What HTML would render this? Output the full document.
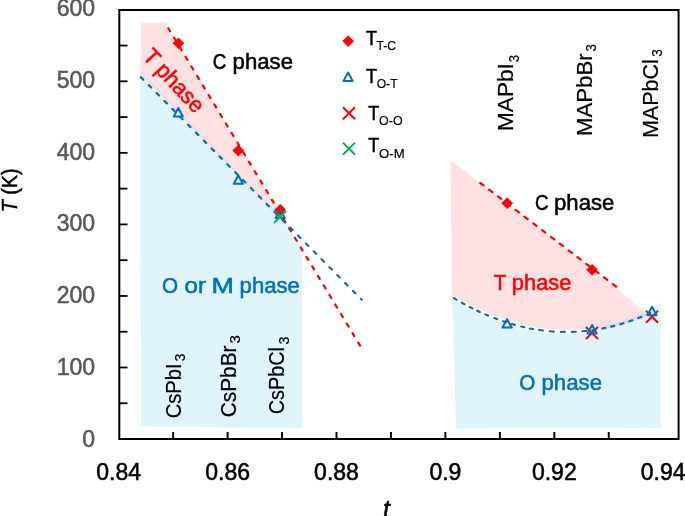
<!DOCTYPE html>
<html><head><meta charset="utf-8"><style>
html,body{margin:0;padding:0;background:#fff;}
body{width:685px;height:516px;overflow:hidden;}
svg{display:block;font-family:"Liberation Sans", sans-serif;will-change:transform;}
</style></head><body>
<svg width="685" height="516" viewBox="0 0 685 516">
<polygon points="141.1,22.9 166.9,22.5 167.3,26.5 287,224.5 240,176.6 150,82.6 140.6,71.8" fill="#FFE1E1"/>
<polygon points="140.2,70.2 150,81.2 240,175.2 287,224.5 302,249.5 302,428.3 141.1,426.4" fill="#E0F4FC"/>
<polyline points="140.6,71.2 150,81.9 240,175.9 285,222.6" fill="none" stroke="#E3D9DE" stroke-width="1.5"/>
<polygon points="450.5,160.2 603.0,276.6 646.3,313.6 644.0,317.3 641.6,318.3 639.1,319.3 636.7,320.2 634.3,321.1 631.8,322.0 629.4,322.8 627.0,323.6 624.6,324.4 622.1,325.1 619.7,325.8 617.3,326.5 614.8,327.2 612.4,327.8 610.0,328.4 607.5,328.9 605.1,329.1 602.7,328.7 600.3,328.3 597.8,327.8 595.4,327.5 593.0,327.9 590.5,328.2 588.1,328.5 585.7,328.8 583.2,329.0 580.8,329.2 578.4,329.4 575.9,329.5 573.5,329.6 571.1,329.7 568.7,329.8 566.2,329.8 563.8,329.8 561.4,329.7 558.9,329.6 556.5,329.5 554.1,329.4 551.6,329.2 549.2,329.0 546.8,328.7 544.4,328.5 541.9,328.2 539.5,327.8 537.1,327.5 534.6,327.1 532.2,326.7 529.8,326.2 527.3,325.7 524.9,325.2 522.5,324.6 520.1,324.0 517.6,323.4 515.2,322.8 512.8,322.1 510.3,321.4 507.9,320.6 505.5,319.9 503.0,319.0 500.6,318.2 498.2,317.3 495.7,316.4 493.3,315.5 490.9,314.5 488.5,313.5 486.0,312.5 483.6,311.4 481.2,310.4 478.7,309.2 476.3,308.1 473.9,306.9 471.4,305.7 469.0,304.4 466.6,303.1 464.2,301.8 461.7,300.5 459.3,299.1 456.9,297.7 454.4,296.2 452.0,294.8 451.8,294.8" fill="#FFE1E1"/>
<polygon points="452.4,299.2 454.9,300.7 457.3,302.1 459.8,303.6 462.2,304.9 464.7,306.3 467.1,307.6 469.6,308.9 472.0,310.2 474.5,311.4 476.9,312.6 479.4,313.7 481.9,314.9 484.3,316.0 486.8,317.0 489.2,318.0 491.7,319.0 494.1,320.0 496.6,320.9 499.0,321.8 501.5,322.7 503.9,323.5 506.4,324.4 508.9,325.1 511.3,325.9 513.8,326.6 516.2,327.2 518.7,327.9 521.1,328.5 523.6,329.1 526.0,329.6 528.5,330.1 530.9,330.6 533.4,331.1 535.9,331.5 538.3,331.9 540.8,332.2 543.2,332.5 545.7,332.8 548.1,333.1 550.6,333.3 553.0,333.5 555.5,333.7 557.9,333.8 560.4,333.9 562.8,333.9 565.3,334.0 567.8,334.0 570.2,333.9 572.7,333.9 575.1,333.8 577.6,333.6 580.0,333.5 582.5,333.3 584.9,333.0 587.4,332.8 589.8,332.5 592.3,332.2 594.8,331.8 597.2,330.8 599.7,329.2 602.1,327.5 604.6,325.8 607.0,324.5 609.5,324.0 611.9,323.4 614.4,322.8 616.8,322.1 619.3,321.5 621.8,320.7 624.2,320.0 626.7,319.2 629.1,318.4 631.6,317.6 634.0,316.7 636.5,315.8 638.9,314.9 641.4,313.9 643.8,312.9 646.3,311.8 660.8,302.6 660.8,428.0 456.1,428.4" fill="#E0F4FC"/>
<polygon points="601.0,328.3 602.2,327.5 603.3,326.7 604.5,325.8 605.6,325.0 606.8,324.6 607.9,324.3 609.1,324.1 610.2,323.8 611.4,323.5 612.5,323.3 613.7,323.0 614.8,322.7 616.0,322.4 617.2,322.1 618.3,321.7 619.5,321.4 620.6,321.1 621.8,320.7 622.9,320.4 624.1,320.0 625.2,319.7 626.4,319.3 627.5,318.9 628.7,318.6 629.8,318.2 631.0,317.8 632.2,317.4 633.3,317.0 634.5,316.5 635.6,316.1 636.8,315.7 637.9,315.2 639.1,314.8 640.2,314.3 641.4,313.9 642.5,313.4 643.7,312.9 644.8,312.5 646.0,313.3 646.0,316.5 644.8,317.0 643.7,317.4 642.5,317.9 641.4,318.4 640.2,318.8 639.1,319.3 637.9,319.7 636.8,320.2 635.6,320.6 634.5,321.0 633.3,321.5 632.2,321.9 631.0,322.3 629.8,322.7 628.7,323.1 627.5,323.4 626.4,323.8 625.2,324.2 624.1,324.5 622.9,324.9 621.8,325.2 620.6,325.6 619.5,325.9 618.3,326.2 617.2,326.6 616.0,326.9 614.8,327.2 613.7,327.5 612.5,327.8 611.4,328.0 610.2,328.3 609.1,328.6 607.9,328.8 606.8,329.1 605.6,329.2 604.5,329.0 603.3,328.8 602.2,328.6 601.0,328.4" fill="#E3D9DE"/>
<path d="M119.3,10 H678.6 V439 H119.3 Z" fill="none" stroke="#000" stroke-width="2"/>
<line x1="119.3" y1="403.28" x2="127.5" y2="403.28" stroke="#000" stroke-width="1.8"/>
<line x1="119.3" y1="367.50" x2="127.5" y2="367.50" stroke="#000" stroke-width="1.8"/>
<line x1="119.3" y1="331.73" x2="127.5" y2="331.73" stroke="#000" stroke-width="1.8"/>
<line x1="119.3" y1="295.95" x2="127.5" y2="295.95" stroke="#000" stroke-width="1.8"/>
<line x1="119.3" y1="260.18" x2="127.5" y2="260.18" stroke="#000" stroke-width="1.8"/>
<line x1="119.3" y1="224.40" x2="127.5" y2="224.40" stroke="#000" stroke-width="1.8"/>
<line x1="119.3" y1="188.62" x2="127.5" y2="188.62" stroke="#000" stroke-width="1.8"/>
<line x1="119.3" y1="152.85" x2="127.5" y2="152.85" stroke="#000" stroke-width="1.8"/>
<line x1="119.3" y1="117.07" x2="127.5" y2="117.07" stroke="#000" stroke-width="1.8"/>
<line x1="119.3" y1="81.30" x2="127.5" y2="81.30" stroke="#000" stroke-width="1.8"/>
<line x1="119.3" y1="45.52" x2="127.5" y2="45.52" stroke="#000" stroke-width="1.8"/>
<line x1="173.15" y1="439" x2="173.15" y2="432" stroke="#000" stroke-width="2"/>
<line x1="227.60" y1="439" x2="227.60" y2="432" stroke="#000" stroke-width="2"/>
<line x1="282.05" y1="439" x2="282.05" y2="432" stroke="#000" stroke-width="2"/>
<line x1="336.50" y1="439" x2="336.50" y2="432" stroke="#000" stroke-width="2"/>
<line x1="390.95" y1="439" x2="390.95" y2="432" stroke="#000" stroke-width="2"/>
<line x1="445.40" y1="439" x2="445.40" y2="432" stroke="#000" stroke-width="2"/>
<line x1="499.85" y1="439" x2="499.85" y2="432" stroke="#000" stroke-width="2"/>
<line x1="554.30" y1="439" x2="554.30" y2="432" stroke="#000" stroke-width="2"/>
<line x1="608.75" y1="439" x2="608.75" y2="432" stroke="#000" stroke-width="2"/>
<text x="95" y="446.7" text-anchor="end" font-size="23" fill="#595959" stroke="#595959" stroke-width="0.55">0</text>
<text x="95" y="375.0" text-anchor="end" font-size="23" fill="#595959" stroke="#595959" stroke-width="0.55">100</text>
<text x="95" y="302.6" text-anchor="end" font-size="23" fill="#595959" stroke="#595959" stroke-width="0.55">200</text>
<text x="95" y="231.3" text-anchor="end" font-size="23" fill="#595959" stroke="#595959" stroke-width="0.55">300</text>
<text x="95" y="159.7" text-anchor="end" font-size="23" fill="#595959" stroke="#595959" stroke-width="0.55">400</text>
<text x="95" y="87.7" text-anchor="end" font-size="23" fill="#595959" stroke="#595959" stroke-width="0.55">500</text>
<text x="95" y="16.3" text-anchor="end" font-size="23" fill="#595959" stroke="#595959" stroke-width="0.55">600</text>
<text x="118.7" y="480" text-anchor="middle" font-size="23" fill="#000" stroke="#000" stroke-width="0.55">0.84</text>
<text x="227.6" y="480" text-anchor="middle" font-size="23" fill="#000" stroke="#000" stroke-width="0.55">0.86</text>
<text x="336.5" y="480" text-anchor="middle" font-size="23" fill="#000" stroke="#000" stroke-width="0.55">0.88</text>
<text x="445.4" y="480" text-anchor="middle" font-size="23" fill="#000" stroke="#000" stroke-width="0.55">0.9</text>
<text x="554.3" y="480" text-anchor="middle" font-size="23" fill="#000" stroke="#000" stroke-width="0.55">0.92</text>
<text x="663.2" y="480" text-anchor="middle" font-size="23" fill="#000" stroke="#000" stroke-width="0.55">0.94</text>
<text x="383" y="518" font-size="25" font-style="italic" fill="#000" stroke="#000" stroke-width="0.55">t</text>
<text transform="translate(17.4,212.2) rotate(-90)" font-size="22.4" fill="#000" textLength="43.8" lengthAdjust="spacingAndGlyphs" stroke="#000" stroke-width="0.55"><tspan font-style="italic">T</tspan> (K)</text>
<path d="M178.5,37.9 L183.9,43.3 L178.5,48.699999999999996 L173.1,43.3 Z" fill="#FF0000" stroke="#FF0000" stroke-width="0.8" stroke-linejoin="round"/>
<path d="M238.3,145.1 L243.70000000000002,150.5 L238.3,155.9 L232.9,150.5 Z" fill="#FF0000" stroke="#FF0000" stroke-width="0.8" stroke-linejoin="round"/>
<path d="M280.2,204.29999999999998 L285.59999999999997,209.7 L280.2,215.1 L274.8,209.7 Z" fill="#FF0000" stroke="#FF0000" stroke-width="0.8" stroke-linejoin="round"/>
<path d="M507.2,197.79999999999998 L512.6,203.2 L507.2,208.6 L501.8,203.2 Z" fill="#FF0000" stroke="#FF0000" stroke-width="0.8" stroke-linejoin="round"/>
<path d="M592.1,264.40000000000003 L597.5,269.8 L592.1,275.2 L586.7,269.8 Z" fill="#FF0000" stroke="#FF0000" stroke-width="0.8" stroke-linejoin="round"/>
<path d="M586.0,327.0 L598.0,339.0 M598.0,327.0 L586.0,339.0" stroke="#FF0000" stroke-width="2"/>
<path d="M646.0,310.8 L658.0,322.8 M658.0,310.8 L646.0,322.8" stroke="#FF0000" stroke-width="2"/>
<path d="M178.3,108.0 L182.9,116.4 L173.70000000000002,116.4 Z" fill="none" stroke="#0070C0" stroke-width="2" stroke-linejoin="round"/>
<path d="M238.3,175.4 L242.9,183.79999999999998 L233.70000000000002,183.79999999999998 Z" fill="none" stroke="#0070C0" stroke-width="2" stroke-linejoin="round"/>
<path d="M280.2,209.60000000000002 L284.8,218.0 L275.59999999999997,218.0 Z" fill="none" stroke="#0070C0" stroke-width="2" stroke-linejoin="round"/>
<path d="M507.1,319.2 L511.70000000000005,327.59999999999997 L502.5,327.59999999999997 Z" fill="none" stroke="#0070C0" stroke-width="2" stroke-linejoin="round"/>
<path d="M592.1,325.0 L596.7,333.4 L587.5,333.4 Z" fill="none" stroke="#0070C0" stroke-width="2" stroke-linejoin="round"/>
<path d="M652,306.8 L656.6,315.2 L647.4,315.2 Z" fill="none" stroke="#0070C0" stroke-width="2" stroke-linejoin="round"/>
<path d="M274.0,211.0 L286.0,223.0 M286.0,211.0 L274.0,223.0" stroke="#00B050" stroke-width="2"/>
<line x1="167.3" y1="26.5" x2="360.6" y2="346.5" stroke="#FF0000" stroke-width="2.2" stroke-linecap="round" stroke-dasharray="3.5 7.63" stroke-dashoffset="-2.0"/>
<line x1="140.4" y1="76.7" x2="361.7" y2="299.7" stroke="#0070C0" stroke-width="2.2" stroke-linecap="round" stroke-dasharray="3.4 7.75" stroke-dashoffset="-0.75"/>
<line x1="479.2" y1="182.1" x2="617.2" y2="287.4" stroke="#FF0000" stroke-width="2.2" stroke-linecap="round" stroke-dasharray="4.2 6.92" stroke-dashoffset="-1.3"/>
<path d="M453.96,298.16 L456.54,299.70 M461.84,302.74 L464.46,304.19 M469.72,306.98 L472.39,308.34 M477.14,310.67 L479.86,311.95 M485.42,314.44 L488.18,315.62 M494.30,318.08 L497.10,319.14 M503.08,321.26 L505.93,322.20 M511.86,324.03 L514.74,324.84 M521.24,326.53 L524.16,327.21 M530.13,328.46 L533.08,329.01 M539.02,329.97 L542.98,330.51 M549.71,331.23 L553.69,331.54 M560.80,331.89 L564.80,331.96 M571.80,331.89 L575.80,331.73 M582.51,331.27 L586.49,330.88 M592.42,330.15 L595.58,329.68 M602.23,328.52 L605.37,327.89 M611.15,326.59 L614.25,325.82 M620.36,324.15 L623.43,323.24 M629.39,321.32 L632.41,320.28 M638.31,318.10 L641.29,316.93 M647.33,314.40 L650.26,313.11" fill="none" stroke="#0070C0" stroke-width="2.2" stroke-linecap="round"/>
<path d="M348.2,35.7 L353.59999999999997,41.1 L348.2,46.5 L342.8,41.1 Z" fill="#FF0000" stroke="#FF0000" stroke-width="0.8" stroke-linejoin="round"/>
<path d="M348.1,72.5 L352.70000000000005,80.9 L343.5,80.9 Z" fill="none" stroke="#0070C0" stroke-width="2" stroke-linejoin="round"/>
<path d="M343.0,107.2 L355.0,119.2 M355.0,107.2 L343.0,119.2" stroke="#FF0000" stroke-width="2"/>
<path d="M343.0,142.6 L355.0,154.6 M355.0,142.6 L343.0,154.6" stroke="#00B050" stroke-width="2"/>
<text x="365.9" y="45.1" font-size="20.8" fill="#000" textLength="11.0" lengthAdjust="spacingAndGlyphs" stroke="#000" stroke-width="0.55">T</text><text x="376.5" y="49.7" font-size="13.2" fill="#000" stroke="#000" stroke-width="0.2" textLength="19.5" lengthAdjust="spacingAndGlyphs">T-C</text>
<text x="366.1" y="83.2" font-size="20.8" fill="#000" textLength="11.0" lengthAdjust="spacingAndGlyphs" stroke="#000" stroke-width="0.55">T</text><text x="376.7" y="88.2" font-size="13.2" fill="#000" stroke="#000" stroke-width="0.2" textLength="20.9" lengthAdjust="spacingAndGlyphs">O-T</text>
<text x="368.3" y="120.3" font-size="20.8" fill="#000" textLength="11.0" lengthAdjust="spacingAndGlyphs" stroke="#000" stroke-width="0.55">T</text><text x="379.1" y="124.8" font-size="13.2" fill="#000" stroke="#000" stroke-width="0.2" textLength="23.5" lengthAdjust="spacingAndGlyphs">O-O</text>
<text x="368.3" y="152.2" font-size="20.8" fill="#000" textLength="11.0" lengthAdjust="spacingAndGlyphs" stroke="#000" stroke-width="0.55">T</text><text x="379.1" y="158.1" font-size="13.2" fill="#000" stroke="#000" stroke-width="0.2" textLength="25.6" lengthAdjust="spacingAndGlyphs">O-M</text>
<text x="212.70" y="68.6" font-size="22.5" fill="#000" textLength="13.57" lengthAdjust="spacingAndGlyphs" stroke="#000" stroke-width="0.55">C</text>
<text x="232.62" y="68.6" font-size="22.5" fill="#000" textLength="60.41" lengthAdjust="spacingAndGlyphs" stroke="#000" stroke-width="0.55">phase</text>
<text x="535.10" y="209.6" font-size="22.5" fill="#000" textLength="13.57" lengthAdjust="spacingAndGlyphs" stroke="#000" stroke-width="0.55">C</text>
<text x="554.02" y="209.6" font-size="22.5" fill="#000" textLength="60.31" lengthAdjust="spacingAndGlyphs" stroke="#000" stroke-width="0.55">phase</text>
<text x="493.79" y="289.6" font-size="22.5" fill="#FF0000" textLength="12.53" lengthAdjust="spacingAndGlyphs" stroke="#FF0000" stroke-width="0.55">T</text>
<text x="511.84" y="289.6" font-size="22.5" fill="#FF0000" textLength="59.58" lengthAdjust="spacingAndGlyphs" stroke="#FF0000" stroke-width="0.55">phase</text>
<text x="161.97" y="292.6" font-size="22.5" fill="#0070C0" textLength="16.07" lengthAdjust="spacingAndGlyphs" stroke="#0070C0" stroke-width="0.55">O</text>
<text x="184.64" y="292.6" font-size="22.5" fill="#0070C0" textLength="21.41" lengthAdjust="spacingAndGlyphs" stroke="#0070C0" stroke-width="0.55">or</text>
<text x="211.54" y="292.6" font-size="22.5" fill="#0070C0" textLength="22.41" lengthAdjust="spacingAndGlyphs" stroke="#0070C0" stroke-width="0.55">M</text>
<text x="239.62" y="292.6" font-size="22.5" fill="#0070C0" textLength="60.31" lengthAdjust="spacingAndGlyphs" stroke="#0070C0" stroke-width="0.55">phase</text>
<text x="519.27" y="389.8" font-size="22.5" fill="#0070C0" textLength="16.07" lengthAdjust="spacingAndGlyphs" stroke="#0070C0" stroke-width="0.55">O</text>
<text x="541.52" y="389.8" font-size="22.5" fill="#0070C0" textLength="60.52" lengthAdjust="spacingAndGlyphs" stroke="#0070C0" stroke-width="0.55">phase</text>
<text transform="translate(141.7,57.2) rotate(47)" font-size="22.5" fill="#FF0000" textLength="78" lengthAdjust="spacingAndGlyphs" stroke="#FF0000" stroke-width="0.55">T phase</text>
<g transform="translate(181.1,417.4) rotate(-90)"><text x="-0.92" y="0" font-size="22.5" textLength="54.88" fill="#000" stroke="#000" stroke-width="0.2" lengthAdjust="spacingAndGlyphs">CsPbI</text><text x="56.09" y="4.20" font-size="14.5" textLength="7.51" fill="#000" stroke="#000" stroke-width="0.2" lengthAdjust="spacingAndGlyphs">3</text></g>
<g transform="translate(235.5,416.3) rotate(-90)"><text x="-0.96" y="0" font-size="22.5" textLength="71.80" fill="#000" stroke="#000" stroke-width="0.2" lengthAdjust="spacingAndGlyphs">CsPbBr</text><text x="72.73" y="4.80" font-size="14.5" textLength="8.33" fill="#000" stroke="#000" stroke-width="0.2" lengthAdjust="spacingAndGlyphs">3</text></g>
<g transform="translate(283.9,413.3) rotate(-90)"><text x="-0.91" y="0" font-size="22.5" textLength="67.13" fill="#000" stroke="#000" stroke-width="0.2" lengthAdjust="spacingAndGlyphs">CsPbCl</text><text x="68.85" y="4.80" font-size="14.5" textLength="7.98" fill="#000" stroke="#000" stroke-width="0.2" lengthAdjust="spacingAndGlyphs">3</text></g>
<g transform="translate(513.3,129.3) rotate(-90)"><text x="-1.76" y="0" font-size="22.5" textLength="67.95" fill="#000" stroke="#000" stroke-width="0.2" lengthAdjust="spacingAndGlyphs">MAPbI</text><text x="67.00" y="5.20" font-size="14.5" textLength="7.27" fill="#000" stroke="#000" stroke-width="0.2" lengthAdjust="spacingAndGlyphs">3</text></g>
<g transform="translate(591.6,134.3) rotate(-90)"><text x="-1.72" y="0" font-size="22.5" textLength="82.59" fill="#000" stroke="#000" stroke-width="0.2" lengthAdjust="spacingAndGlyphs">MAPbBr</text><text x="82.80" y="3.90" font-size="14.5" textLength="7.27" fill="#000" stroke="#000" stroke-width="0.2" lengthAdjust="spacingAndGlyphs">3</text></g>
<g transform="translate(658.0,136.4) rotate(-90)"><text x="-1.66" y="0" font-size="22.5" textLength="78.80" fill="#000" stroke="#000" stroke-width="0.2" lengthAdjust="spacingAndGlyphs">MAPbCl</text><text x="79.78" y="3.80" font-size="14.5" textLength="7.62" fill="#000" stroke="#000" stroke-width="0.2" lengthAdjust="spacingAndGlyphs">3</text></g>
</svg>
</body></html>
